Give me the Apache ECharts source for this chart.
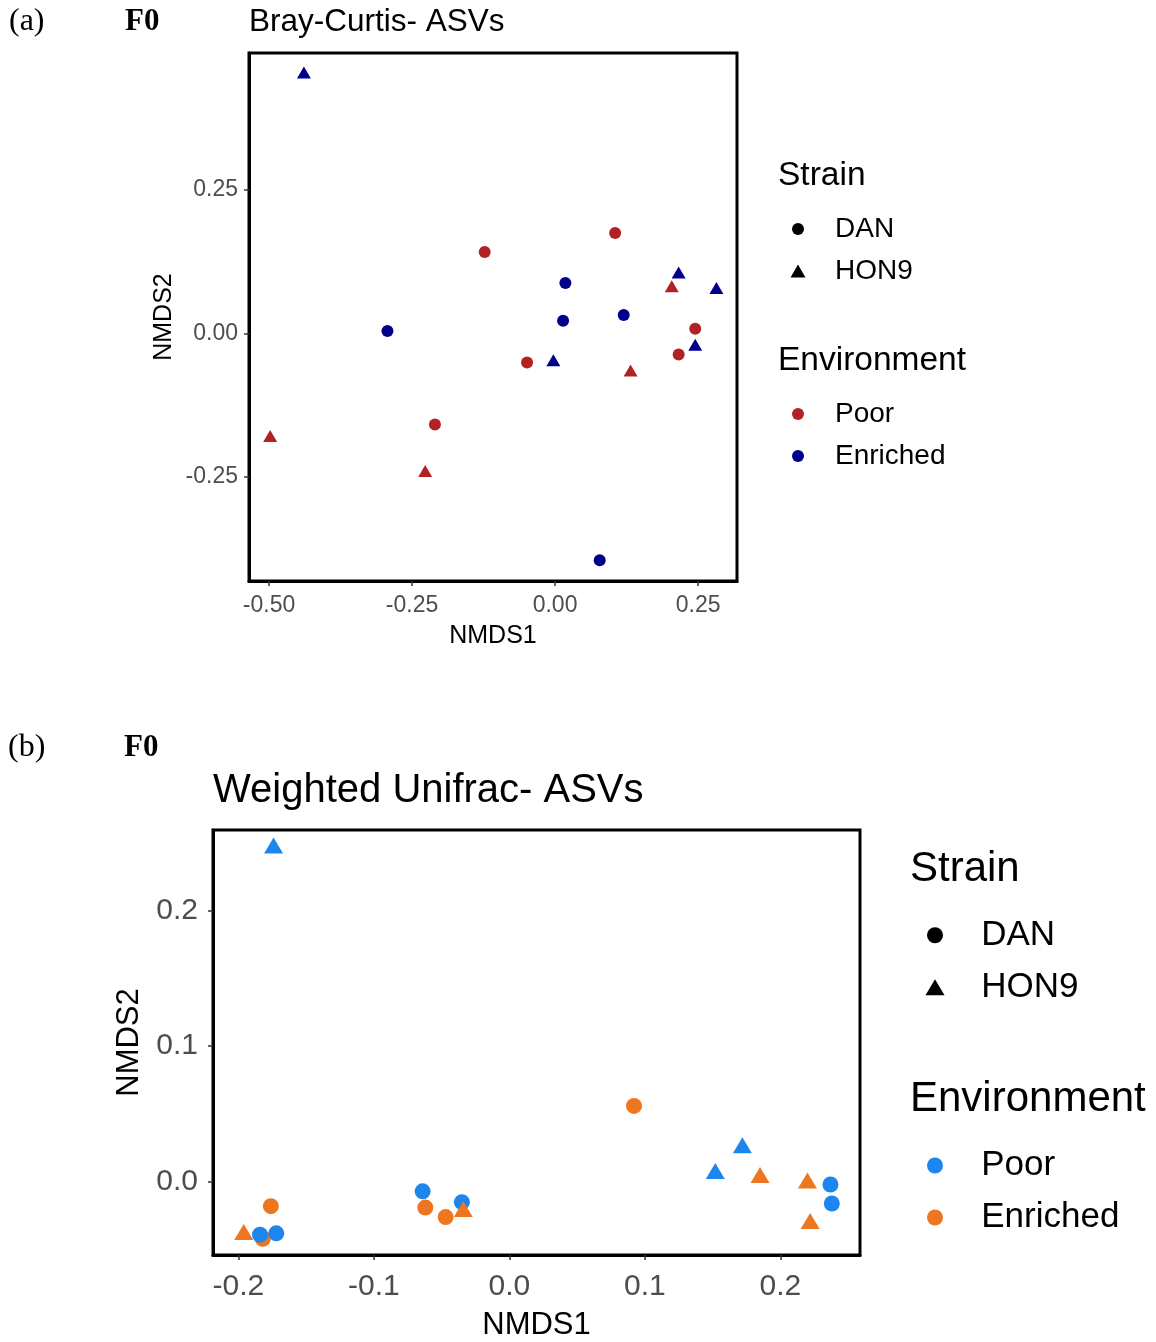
<!DOCTYPE html>
<html>
<head>
<meta charset="utf-8">
<script src="https://cdn.jsdelivr.net/npm/echarts@6/dist/echarts.min.js"></script>
<style>html,body{margin:0;padding:0;background:#fff}#chart{width:1156px;height:1342px}</style>
</head>
<body>
<div id="chart"></div>
<script>
// panel (a) Bray-Curtis NMDS, points as [NMDS1, NMDS2]
var bcDanPoor = [[-0.123, 0.142], [0.105, 0.175], [0.245, 0.008], [0.216, -0.037], [-0.049, -0.051], [-0.210, -0.159]];
var bcDanEnriched = [[-0.293, 0.004], [0.018, 0.088], [0.014, 0.022], [0.120, 0.032], [0.078, -0.396]];
var bcHonPoor = [[0.204, 0.082], [0.132, -0.065], [-0.498, -0.179], [-0.227, -0.240]];
var bcHonEnriched = [[-0.439, 0.455], [0.216, 0.106], [0.282, 0.079], [0.245, -0.020], [-0.003, -0.047]];
var bcXTicks = [-0.5, -0.25, 0, 0.25];
var bcYTicks = [-0.25, 0, 0.25];

// panel (b) weighted Unifrac NMDS
var wuDanEnriched = [[-0.182, -0.042], [-0.176, -0.018], [-0.062, -0.019], [-0.047, -0.026], [0.092, 0.056]];
var wuDanPoor = [[-0.184, -0.039], [-0.172, -0.038], [-0.064, -0.007], [-0.035, -0.015], [0.237, -0.002], [0.238, -0.016]];
var wuHonPoor = [[-0.174, 0.248], [0.172, 0.027], [0.152, 0.008]];
var wuHonEnriched = [[-0.196, -0.037], [-0.034, -0.020], [0.185, 0.005], [0.220, 0.001], [0.222, -0.029]];
var wuXTicks = [-0.2, -0.1, 0, 0.1, 0.2];
var wuYTicks = [0, 0.1, 0.2];

var SANS = 'Liberation Sans, Arial, sans-serif';
var SERIF = 'Liberation Serif, Times New Roman, serif';

function axis(gi, min, max, ticks, digits, size, margin, name, gap, nameSize) {
    return {
        type: 'value', gridIndex: gi, min: min, max: max,
        name: name, nameLocation: 'middle', nameGap: gap,
        nameTextStyle: {color: '#000', fontSize: nameSize, fontFamily: SANS},
        splitLine: {show: false},
        axisLine: {show: true, onZero: false, lineStyle: {color: '#000', width: 3}},
        axisTick: {show: true, customValues: ticks, length: 5, lineStyle: {color: '#333', width: 1.5}},
        axisLabel: {
            customValues: ticks, margin: margin, color: '#4d4d4d', fontSize: size, fontFamily: SANS,
            formatter: function (v) { return v.toFixed(digits); }
        }
    };
}

function pts(data, gi, shape, size, color) {
    return {
        type: 'scatter', xAxisIndex: gi, yAxisIndex: gi, data: data,
        symbol: shape, symbolSize: size, itemStyle: {color: color, opacity: 1},
        silent: true
    };
}

function txt(s, x, y, size, opts) {
    opts = opts || {};
    return {
        type: 'text', x: x, y: y,
        style: {
            text: s, fill: '#000', font: (opts.bold ? 'bold ' : '') + size + 'px ' + (opts.family || SANS),
            align: 'left', verticalAlign: 'middle',
            textAlign: 'left', textVerticalAlign: 'middle'
        }
    };
}

function legendBlock(x, y0, tSize, lSize, r, tw, th, rowGap, blockGap, c1, c2) {
    var scale = lSize / 28;
    var kx = x + 20 * scale, lx = x + 57 * scale;
    var y1 = y0 + 53 * scale, y2 = y1 + rowGap;
    var y3 = y2 + blockGap, y4 = y3 + 53 * scale, y5 = y4 + rowGap;
    return [
        txt('Strain', x, y0, tSize),
        {type: 'circle', shape: {cx: kx, cy: y1, r: r}, style: {fill: '#000'}},
        txt('DAN', lx, y1, lSize),
        {type: 'polygon', shape: {points: [[kx, y2 - th / 2], [kx + tw / 2, y2 + th / 2], [kx - tw / 2, y2 + th / 2]]}, style: {fill: '#000'}},
        txt('HON9', lx, y2, lSize),
        txt('Environment', x, y3, tSize),
        {type: 'circle', shape: {cx: kx, cy: y4, r: r}, style: {fill: c1}},
        txt('Poor', lx, y4, lSize),
        {type: 'circle', shape: {cx: kx, cy: y5, r: r}, style: {fill: c2}},
        txt('Enriched', lx, y5, lSize)
    ];
}

var RED = '#B22222', NAVY = '#00008B', DBLUE = '#1C86EE', ORANGE = '#EE7621';

var chart = echarts.init(document.getElementById('chart'));
chart.setOption({
    animation: false,
    backgroundColor: '#fff',
    grid: [
        {left: 249, top: 53, width: 488, height: 528, show: true, borderColor: '#000', borderWidth: 3},
        {left: 213, top: 830, width: 647, height: 427, show: true, borderColor: '#000', borderWidth: 3}
    ],
    xAxis: [
        axis(0, -0.535, 0.318, bcXTicks, 2, 23, 13, 'NMDS1', 43, 25),
        axis(1, -0.2187, 0.2588, wuXTicks, 1, 30, 17, 'NMDS1', 55, 31)
    ],
    yAxis: [
        axis(0, -0.432, 0.489, bcYTicks, 2, 23, 11, 'NMDS2', 72, 25),
        axis(1, -0.054, 0.2595, wuYTicks, 1, 30, 15, 'NMDS2', 66, 31)
    ],
    series: [
        pts(bcDanPoor, 0, 'circle', 12, RED),
        pts(bcDanEnriched, 0, 'circle', 12, NAVY),
        pts(bcHonEnriched, 0, 'triangle', [14, 12], NAVY),
        pts(bcHonPoor, 0, 'triangle', [14, 12], RED),
        pts(wuDanEnriched, 1, 'circle', 16, ORANGE),
        pts(wuDanPoor, 1, 'circle', 16, DBLUE),
        pts(wuHonPoor, 1, 'triangle', [19, 16], DBLUE),
        pts(wuHonEnriched, 1, 'triangle', [19, 16], ORANGE)
    ],
    graphic: [
        txt('(a)', 9, 22, 32, {family: SERIF}),
        txt('F0', 125, 22, 31, {family: SERIF, bold: true}),
        txt('Bray-Curtis- ASVs', 249, 22, 31.5),
        txt('(b)', 8, 748, 32, {family: SERIF}),
        txt('F0', 124, 748, 31, {family: SERIF, bold: true}),
        txt('Weighted Unifrac- ASVs', 213, 791, 40)
    ].concat(
        legendBlock(778, 176, 33.5, 28, 6, 15, 13, 42, 90, RED, NAVY),
        legendBlock(910, 869, 42, 35, 8, 19, 16, 52, 112, DBLUE, ORANGE)
    )
});
</script>
</body>
</html>
